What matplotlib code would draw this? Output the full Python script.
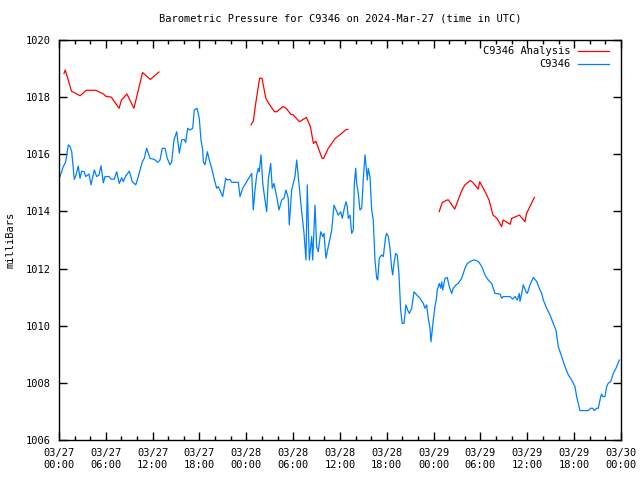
import numpy as np
import pandas as pd
import matplotlib
matplotlib.use("Agg")
import matplotlib.pyplot as plt
import matplotlib.dates as mdates

# --- data: hours after 2024-03-27 00:00 UTC, pressure in mb ---
obs_hours = [0.13, 0.55, 0.86, 1.19, 1.41, 1.63, 1.96, 2.18, 2.47, 2.69, 2.91, 3.24, 3.42, 3.84, 4.10,
             4.52, 4.83, 5.12, 5.38, 5.68, 5.89, 6.41, 6.66, 7.08, 7.39, 7.72, 8.03, 8.24, 8.54, 9.01,
             9.39, 9.83, 10.16, 10.67, 10.93, 11.23, 11.66, 12.21, 12.64, 12.94, 13.23, 13.58, 13.87,
             14.22, 14.44, 14.73, 15.08, 15.41, 15.72, 16.05, 16.23, 16.49, 16.78, 17.13, 17.33, 17.68,
             17.97, 18.19, 18.41, 18.49, 18.70, 19.00, 19.25, 19.56, 19.86, 20.20, 20.41, 20.71, 20.97,
             21.36, 21.56, 21.91, 22.12, 22.97, 23.19, 23.53, 24.05, 24.56, 24.69, 24.89, 25.11, 25.33,
             25.53, 25.66, 25.88, 26.10, 26.39, 26.61, 26.81, 27.12, 27.32, 27.54, 27.89, 28.18, 28.53,
             28.82, 29.08, 29.37, 29.50, 29.81, 30.23, 30.45, 30.78, 31.09, 31.39, 31.64, 31.81, 32.07,
             32.37, 32.50, 32.80, 33.01, 33.22, 33.53, 33.78, 33.95, 34.20, 34.50, 34.94, 35.23, 35.49,
             35.78, 36.09, 36.29, 36.55, 36.77, 36.93, 37.06, 37.28, 37.50, 37.70, 37.83, 38.01, 38.14,
             38.34, 38.56, 38.78, 38.98, 39.20, 39.33, 39.50, 39.62, 39.84, 40.06, 40.26, 40.48, 40.70,
             40.83, 41.03, 41.34, 41.55, 41.85, 41.98, 42.19, 42.40, 42.62, 42.75, 42.92, 43.13, 43.34,
             43.56, 43.77, 43.98, 44.20, 44.45, 44.67, 44.88, 45.18, 45.48, 45.82, 46.25, 46.67, 46.89,
             47.10, 47.31, 47.53, 47.66, 47.95, 48.17, 48.39, 48.46, 48.72, 48.90, 49.03, 49.16, 49.45,
             49.74, 50.00, 50.31, 50.51, 50.86, 51.15, 51.59, 52.01, 52.31, 52.65, 53.08, 53.51, 53.84,
             54.15, 54.57, 54.99, 55.43, 55.64, 55.85, 56.50, 56.71, 56.92, 57.78, 58.12, 58.42, 58.71,
             58.97, 59.06, 59.28, 59.48, 59.83, 60.00, 60.34, 60.76, 61.20, 61.53, 61.84, 62.05, 62.48,
             62.90, 63.32, 63.67, 63.96, 64.40, 64.82, 65.25, 65.68, 66.10, 66.32, 66.74, 67.81, 68.11,
             68.37, 68.58, 68.88, 69.09, 69.40, 69.52, 69.65, 69.95, 70.16, 70.37, 70.68, 71.01, 71.36,
             71.78]
obs_mb = [1015.22, 1015.57, 1015.74, 1016.33, 1016.27, 1016.09, 1015.12, 1015.27, 1015.59, 1015.16,
          1015.41, 1015.39, 1015.22, 1015.31, 1014.93, 1015.45, 1015.22, 1015.27, 1015.60, 1015.00,
          1015.22, 1015.22, 1015.13, 1015.13, 1015.39, 1014.98, 1015.18, 1015.04, 1015.24, 1015.41,
          1015.04, 1014.93, 1015.22, 1015.74, 1015.86, 1016.21, 1015.86, 1015.82, 1015.72, 1015.80,
          1016.21, 1016.21, 1015.86, 1015.63, 1015.74, 1016.50, 1016.79, 1016.04, 1016.50, 1016.52,
          1016.41, 1016.91, 1016.85, 1016.91, 1017.55, 1017.61, 1017.26, 1016.50, 1016.15, 1015.74,
          1015.63, 1016.09, 1015.80, 1015.51, 1015.16, 1014.81, 1014.87, 1014.69, 1014.52, 1015.16,
          1015.10, 1015.12, 1015.02, 1015.02, 1014.52, 1014.81, 1015.04, 1015.27, 1015.33, 1014.05,
          1014.75, 1015.27, 1015.51, 1015.39, 1015.98, 1014.98, 1014.40, 1013.99, 1015.10, 1015.68,
          1014.81, 1014.98, 1014.52, 1014.05, 1014.40, 1014.46, 1014.75, 1014.46, 1013.53, 1014.75,
          1015.22, 1015.80, 1014.87, 1013.99, 1013.23, 1012.30, 1014.93, 1012.30, 1013.12, 1012.30,
          1014.22, 1012.77, 1012.59, 1013.29, 1013.12, 1013.23, 1012.36, 1012.77, 1013.35, 1014.22,
          1014.05, 1013.87, 1013.99, 1013.76, 1014.11, 1014.34, 1014.17, 1013.76, 1013.87, 1013.23,
          1013.35, 1014.93, 1015.51, 1014.98, 1014.63, 1014.05, 1014.11, 1015.10, 1015.98, 1015.63,
          1015.10, 1015.51, 1015.22, 1014.05, 1013.70, 1012.30, 1011.66, 1011.60, 1012.36, 1012.48,
          1012.42, 1013.12, 1013.23, 1013.12, 1012.71, 1012.01, 1011.78, 1012.19, 1012.53, 1012.47,
          1011.78, 1010.55, 1010.08, 1010.08, 1010.73, 1010.55, 1010.43, 1010.61, 1011.19, 1011.08,
          1010.96, 1010.78, 1010.61, 1010.73, 1010.26, 1009.91, 1009.44, 1010.20, 1010.67, 1011.02,
          1011.25, 1011.48, 1011.31, 1011.54, 1011.25, 1011.66, 1011.69, 1011.37, 1011.13, 1011.31,
          1011.43, 1011.48, 1011.66, 1012.01, 1012.18, 1012.24, 1012.30, 1012.28, 1012.21, 1012.07,
          1011.78, 1011.60, 1011.48, 1011.31, 1011.13, 1011.11, 1010.96, 1011.02, 1011.02, 1010.93,
          1011.02, 1010.90, 1011.13, 1010.85, 1011.13, 1011.43, 1011.19, 1011.13, 1011.43, 1011.69,
          1011.55, 1011.31, 1011.13, 1010.90, 1010.61, 1010.38, 1010.08, 1009.85, 1009.27, 1008.92,
          1008.57, 1008.28, 1008.10, 1007.87, 1007.52, 1007.03, 1007.03, 1007.11, 1007.11, 1007.03,
          1007.11, 1007.11, 1007.52, 1007.61, 1007.52, 1007.52, 1007.87, 1007.99, 1008.04, 1008.33,
          1008.51, 1008.80]

# analysis: three separate runs, NaN marks the gaps
ana_hours = [0.64, 0.8, 1.6, 2.7, 3.5, 4.7, 5.7, 6.0, 6.7, 7.7, 8.0, 8.7, 9.6, 10.7, 11.7, 12.8,
             18.0,
             24.6, 24.9, 25.2, 25.7, 26.0, 26.5, 26.8, 27.6, 27.9, 28.7, 29.1, 29.7, 30.0, 30.8, 31.7,
             32.2, 32.6, 32.9, 33.7, 33.9, 34.5, 35.4, 36.2, 36.8, 37.0,
             42.0,
             48.7, 49.1, 49.7, 49.9, 50.7, 50.9, 51.6, 52.0, 52.7, 53.0, 53.7, 53.9, 54.7, 55.1, 55.6,
             56.1, 56.7, 56.9, 57.8, 58.0, 58.8, 59.0, 59.7, 59.9, 60.9]
ana_mb = [1018.83, 1018.95, 1018.21, 1018.05, 1018.24, 1018.24, 1018.11, 1018.03, 1018.00, 1017.61,
          1017.90, 1018.11, 1017.61, 1018.86, 1018.62, 1018.88,
          np.nan,
          1017.03, 1017.17, 1017.78, 1018.66, 1018.66, 1017.96, 1017.81, 1017.49, 1017.49, 1017.67,
          1017.61, 1017.40, 1017.38, 1017.14, 1017.29, 1016.97, 1016.38, 1016.46, 1015.86, 1015.86,
          1016.21, 1016.56, 1016.73, 1016.87, 1016.87,
          np.nan,
          1013.99, 1014.31, 1014.40, 1014.40, 1014.08, 1014.23, 1014.73, 1014.93, 1015.08, 1015.02,
          1014.78, 1015.04, 1014.63, 1014.40, 1013.87, 1013.76, 1013.47, 1013.70, 1013.55, 1013.76,
          1013.85, 1013.87, 1013.64, 1013.93, 1014.49]

start = pd.Timestamp("2024-03-27 00:00")
obs_t = start + pd.to_timedelta(obs_hours, unit="h")
ana_t = start + pd.to_timedelta(ana_hours, unit="h")

plt.rcParams["font.family"] = ["DejaVu Sans Mono"]
plt.rcParams["font.size"] = 7.5

fig = plt.figure(figsize=(6.4, 4.8), dpi=100)
ax = fig.add_axes([59 / 640, 40 / 480, 562 / 640, 400 / 480])

ax.plot(ana_t, ana_mb, color="#ff0000", linewidth=0.9, label="C9346 Analysis")
ax.plot(obs_t, obs_mb, color="#0080ff", linewidth=0.9, label="C9346")

ax.set_xlim(start, start + pd.Timedelta(hours=72))
ax.set_ylim(1006, 1020)
ax.set_yticks(np.arange(1006, 1021, 2))
ax.xaxis.set_major_locator(mdates.HourLocator(byhour=[0, 6, 12, 18]))
ax.xaxis.set_minor_locator(mdates.HourLocator(byhour=range(0, 24, 2)))
ax.xaxis.set_major_formatter(mdates.DateFormatter("%m/%d\n%H:%M"))

ax.tick_params(which="both", direction="in", top=True, right=True, color="black", width=1)
ax.tick_params(which="major", length=6, pad=6, labelsize=7.5)
ax.tick_params(which="minor", length=3)
for s in ax.spines.values():
    s.set_linewidth(1)

ax.set_title("Barometric Pressure for C9346 on 2024-Mar-27 (time in UTC)", fontsize=7.5, pad=13)
ax.set_ylabel("milliBars", fontsize=7.5, labelpad=7)

ax.legend(loc="upper right", bbox_to_anchor=(0.989, 1.0), frameon=False, markerfirst=False,
          handlelength=2.9, borderaxespad=0.2, labelspacing=0.3, handletextpad=0.8, fontsize=7.5)

fig.savefig("out.png", dpi=100)
